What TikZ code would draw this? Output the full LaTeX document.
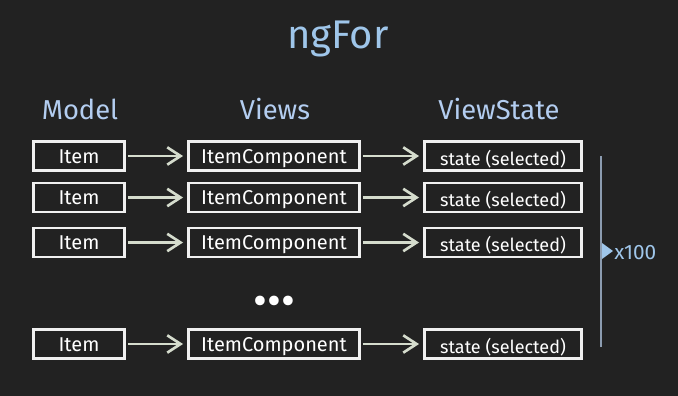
\documentclass[tikz,border=0pt]{standalone}
\usepackage{fontspec}
\setmainfont{Fira Sans}
\usetikzlibrary{arrows.meta,positioning}
\definecolor{bg}{HTML}{222222}
\definecolor{ttl}{HTML}{9FC6EA}
\definecolor{hdr}{HTML}{B3CDF0}
\definecolor{chalk}{HTML}{D5DCCD}
\definecolor{rail}{HTML}{8C9CB0}

\begin{document}
\begin{tikzpicture}[x=0.75pt,y=-0.75pt,
  bx/.style={draw=white!94!black,line width=2.2pt,inner sep=0pt,minimum height=21.75pt,text height=10.5pt,text depth=0pt,text=white,font=\fontsize{15}{18}\selectfont},
  st/.style={bx,minimum width=117.75pt,text height=14pt,font=\fontsize{13.5}{16}\selectfont},
  hd/.style={anchor=base,text=hdr,font=\fontsize{20.5}{24}\selectfont},
  a/.style={-{Straight Barb[length=10pt,width=13pt]},line width=2pt,draw=chalk,shorten <=1.5pt,shorten >=3pt}]
\fill[bg] (0,0) rectangle (678,396);
\useasboundingbox (0,0) rectangle (678,396);
\node[anchor=base,text=ttl,font=\fontsize{30}{34}\selectfont] (title) at (338,48) {ngFor};
\node[hd] (model) at (80,119) {Model};
\node[hd] (views) at (275,119) {Views};
\node[hd] (vstate) at (499,119) {ViewState};
\foreach \k/\y in {1/156,2/197.5,3/242.5,4/344}{
  \node[bx,minimum width=68.25pt] (item\k) at (79,\y) {Item};
  \node[bx,minimum width=128.25pt] (comp\k) at (274,\y) {ItemComponent};
  \node[st] (state\k) at (503,\y) {state (selected)};
  \draw[a] (item\k) -- (comp\k);
  \draw[a] (comp\k) -- (state\k);
}
\node[text=white,inner sep=0pt,font=\fontsize{32}{34}\selectfont] (dots) at (274.3,306) {\makebox[10.7pt]{\textbullet}\makebox[10.7pt]{\textbullet}\makebox[10.7pt]{\textbullet}};
% repeat marker
\coordinate (top) at (601,156);
\coordinate (bot) at (601,347);
\draw[rail,line width=1.2pt] (top) -- (bot);
\fill[ttl] (602,243) -- (613,251) -- (602,259) -- cycle;
\node[anchor=base west,inner sep=0pt,text=ttl,font=\fontsize{15.6}{18}\selectfont] (count) at (614,259) {x100};
\end{tikzpicture}
\end{document}
